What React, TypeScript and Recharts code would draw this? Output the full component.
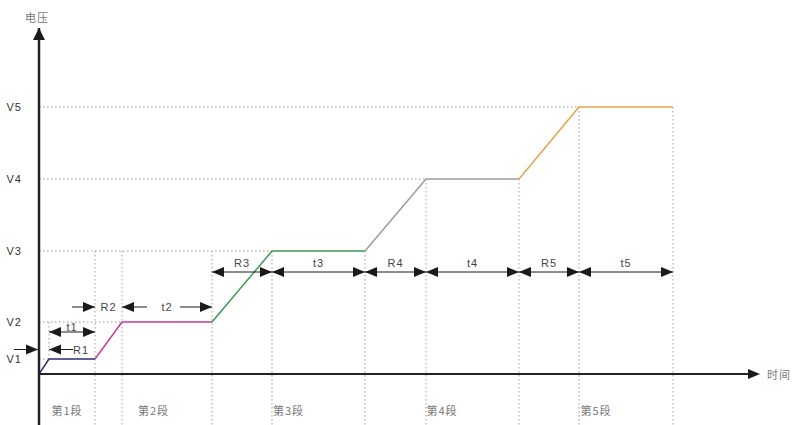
import React from "react";
import { LineChart, Line, XAxis, YAxis, ReferenceLine, ReferenceDot } from "recharts";

// voltage levels V1..V5 and the time points of each stage (ramp start, ramp end, hold end)
const levelNames = ["V1", "V2", "V3", "V4", "V5"];
const levels = [1.5, 5.2, 12.3, 19.5, 26.7];
const rampStart = [0, 5.6, 17.3, 32.6, 48];
const rampEnd = [1, 8.3, 23.3, 38.7, 54];
const holdEnd = [5.6, 17.3, 32.6, 48, 63.4];
const rampNames = ["R1", "R2", "R3", "R4", "R5"];
const holdNames = ["t1", "t2", "t3", "t4", "t5"];
const stageNames = ["第1段", "第2段", "第3段", "第4段", "第5段"];

const colors = ["#2e2c6e", "#c83c8c", "#3a9a52", "#9c9c9c", "#e2a24a"];

const X_MAX = 72;
const Y_MIN = -5.1;
const Y_MAX = 34.6;
const ink = "#1a1a1a";
const dots = "#9a9a9a";
const latin = "'Liberation Sans Narrow', 'Liberation Sans', Arial, sans-serif";
const cjk = "'Noto Sans CJK SC', sans-serif";

const segments = levels.map((v, i) => [
  { t: rampStart[i], v: i === 0 ? 0 : levels[i - 1] },
  { t: rampEnd[i], v },
  { t: holdEnd[i], v },
]);

const headShape = (dir: string) => (p: any) => {
  const { cx, cy } = p;
  let d = "";
  if (dir === "r") d = `M${cx},${cy}L${cx - 12},${cy - 5}L${cx - 12},${cy + 5}Z`;
  if (dir === "l") d = `M${cx},${cy}L${cx + 12},${cy - 5}L${cx + 12},${cy + 5}Z`;
  if (dir === "u") d = `M${cx},${cy}L${cx - 6},${cy + 12}L${cx + 6},${cy + 12}Z`;
  return <path d={d} fill={ink} />;
};

const head = (key: string, x: number, y: number, dir: string) => (
  <ReferenceDot key={key} x={x} y={y} r={0} ifOverflow="visible" shape={headShape(dir)} />
);

const shaft = (key: string, x1: number, x2: number, y: number) => (
  <ReferenceLine
    key={key}
    segment={[{ x: x1, y }, { x: x2, y }]}
    stroke={ink}
    strokeWidth={1}
    ifOverflow="visible"
  />
);

const text = (key: string, x: number, y: number, s: string, fill = "#444", font = latin) => (
  <ReferenceDot
    key={key}
    x={x}
    y={y}
    r={0}
    ifOverflow="visible"
    shape={(p: any) => (
      <text
        x={p.cx}
        y={p.cy}
        textAnchor="middle"
        dominantBaseline="central"
        fill={fill}
        fontSize={11}
        fontFamily={font}
        letterSpacing={1}
      >
        {s}
      </text>
    )}
  />
);

export default function App() {
  // dotted guides
  const hGuides = levels.map((v, i) => (
    <ReferenceLine
      key={"h" + i}
      segment={[{ x: 0, y: v }, { x: rampEnd[i], y: v }]}
      stroke={dots}
      strokeDasharray="1.5 2.5"
    />
  ));
  const vPos: number[] = [];
  const vTop: number[] = [];
  for (let i = 1; i < 5; i++) {
    vPos.push(rampStart[i], rampEnd[i]);
    vTop.push(Math.max(levels[2], levels[i - 1]), Math.max(levels[2], levels[i]));
  }
  vPos.push(holdEnd[4]);
  vTop.push(levels[4]);
  const vGuides = vPos.map((x, i) => (
    <ReferenceLine
      key={"v" + i}
      segment={[{ x, y: vTop[i] }, { x, y: Y_MIN }]}
      stroke={dots}
      strokeDasharray="1.5 2.5"
    />
  ));
  const v12 = (
    <ReferenceLine
      key="v12"
      segment={[{ x: rampEnd[0], y: levels[1] }, { x: rampEnd[0], y: levels[0] }]}
      stroke={dots}
      strokeDasharray="1.5 2.5"
    />
  );

  // dimension arrows for stages 3-5
  const rowA = 10.2;
  const dimA: any[] = [];
  for (let i = 2; i < 5; i++) {
    const spans: [number, number, string][] = [
      [rampStart[i], rampEnd[i], rampNames[i]],
      [rampEnd[i], holdEnd[i], holdNames[i]],
    ];
    spans.forEach(([a, b, s], j) => {
      dimA.push(shaft(`a${i}${j}`, a, b, rowA));
      dimA.push(head(`al${i}${j}`, a, rowA, "l"));
      dimA.push(head(`ar${i}${j}`, b, rowA, "r"));
      dimA.push(text(`at${i}${j}`, (a + b) / 2, rowA + 0.9, s));
    });
  }

  // stage 2
  const rowB = 6.7;
  const dimB = [
    shaft("b1", 3.3, rampStart[1], rowB),
    head("b2", rampStart[1], rowB, "r"),
    text("b3", (rampStart[1] + rampEnd[1]) / 2, rowB, rampNames[1]),
    shaft("b4", rampEnd[1], 10.8, rowB),
    head("b5", rampEnd[1], rowB, "l"),
    text("b6", (rampEnd[1] + holdEnd[1]) / 2, rowB, holdNames[1]),
    shaft("b7", 14.1, holdEnd[1], rowB),
    head("b8", holdEnd[1], rowB, "r"),
  ];

  // stage 1
  const rowC = 4.2;
  const rowD = 2.45;
  const dimC = [
    shaft("c1", rampEnd[0], holdEnd[0], rowC),
    head("c2", rampEnd[0], rowC, "l"),
    head("c3", holdEnd[0], rowC, "r"),
    text("c4", 3.3, rowC + 0.55, holdNames[0]),
    shaft("d1", -2.5, 0, rowD),
    head("d2", -0.1, rowD, "r"),
    shaft("d3", rampEnd[0], 3.4, rowD),
    head("d4", rampEnd[0], rowD, "l"),
    text("d5", 4.2, rowD, rampNames[0]),
  ];

  const stages = stageNames.map((s, i) =>
    text("s" + i, (rampStart[i] + holdEnd[i]) / 2, -3.6, s, "#777", cjk)
  );

  return (
    <div style={{ position: "absolute", left: 0, top: 0 }}>
      <LineChart width={792} height={425} margin={{ top: 28, right: 33, bottom: 0, left: 0 }}>
        <XAxis type="number" dataKey="t" domain={[0, X_MAX]} allowDataOverflow hide />
        <YAxis
          type="number"
          dataKey="v"
          domain={[Y_MIN, Y_MAX]}
          allowDataOverflow
          width={39}
          ticks={levels}
          interval={0}
          tickFormatter={(v: number) => levelNames[levels.indexOf(v)] ?? ""}
          tickLine={false}
          tickSize={0}
          tickMargin={17}
          axisLine={{ stroke: "#222", strokeWidth: 2.5 }}
          tick={{ fill: "#333", fontSize: 11, fontFamily: latin, letterSpacing: 1 }}
        />
        {hGuides}
        {vGuides}
        {v12}
        <ReferenceLine
          segment={[{ x: 0, y: 0 }, { x: 71, y: 0 }]}
          stroke="#222"
          strokeWidth={2}
          ifOverflow="visible"
        />
        {head("xh", 72.1, 0, "r")}
        {head("yh", 0, Y_MAX, "u")}
        {segments.map((d, i) => (
          <Line
            key={"seg" + i}
            data={d}
            dataKey="v"
            type="linear"
            stroke={colors[i]}
            strokeWidth={1.5}
            dot={false}
            activeDot={false}
            isAnimationActive={false}
          />
        ))}
        {dimA}
        {dimB}
        {dimC}
        {stages}
        {text("ty", -0.2, 35.7, "电压", "#777", cjk)}
        {text("tx", 74, 0, "时间", "#777", cjk)}
      </LineChart>
    </div>
  );
}
